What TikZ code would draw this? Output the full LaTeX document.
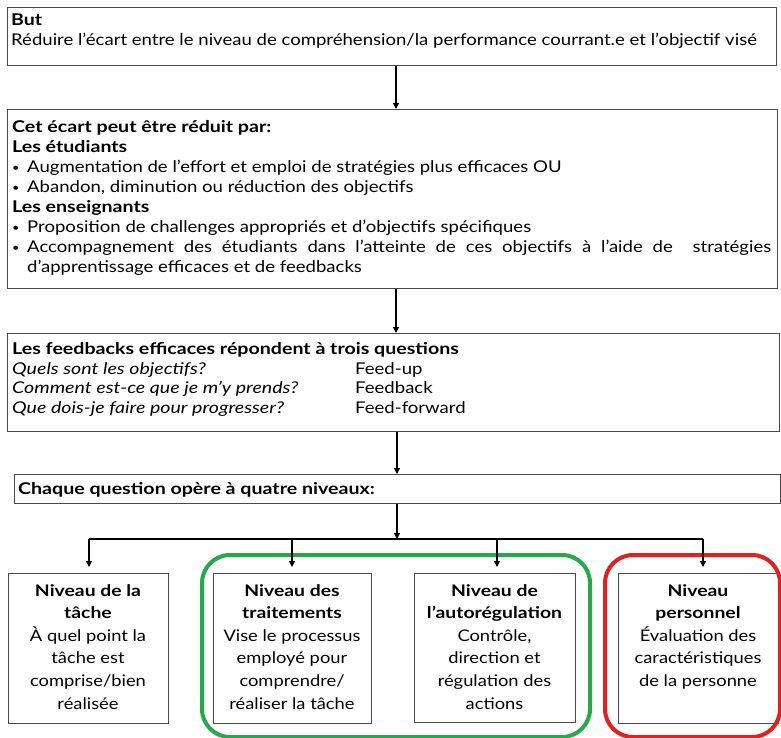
\documentclass[tikz,border=0pt]{standalone}
\usepackage{fontspec}
\setmainfont{Lato}[FakeStretch=1.145, BoldFeatures={FakeStretch=1.21}, ItalicFeatures={FakeStretch=1.21}]
\usetikzlibrary{arrows.meta}
\definecolor{boxline}{HTML}{4A4A4A}
\definecolor{grpgreen}{HTML}{27A84A}
\definecolor{grpred}{HTML}{E2211F}
\newcommand{\smallbullet}{\makebox[15pt][l]{\raisebox{0.5pt}{\fontsize{11}{11}\selectfont •}}}
\begin{document}
\begin{tikzpicture}[x=1pt,y=-1pt,
  frame/.style={draw=boxline, line width=1pt, inner sep=0pt, anchor=north west},
  group/.style={line width=4pt, rounded corners=28pt, inner sep=0pt, anchor=north west},
  arr/.style={draw=black, line width=1.2pt, -{Triangle[length=6pt,width=6pt]}},
  link/.style={draw=black, line width=1.2pt},
  body/.style={inner sep=0pt, font=\fontsize{16.2}{20}\selectfont},
  levelbody/.style={inner sep=0pt, align=center, anchor=north, font=\fontsize{16}{22.6}\selectfont},
]
\useasboundingbox (0,0) rectangle (781,738);

% ---- main boxes
\node[frame, minimum width=769pt, minimum height=58pt]  (b1) at (7,7) {};
\node[frame, minimum width=770pt, minimum height=179pt] (b2) at (7,109) {};
\node[frame, minimum width=772pt, minimum height=98pt]  (b3) at (7,333) {};
\node[frame, minimum width=766pt, minimum height=29pt]  (b4) at (14,474) {};

% ---- level boxes
\node[frame, minimum width=160pt, minimum height=150pt] (nA) at (8,573) {};
\node[frame, minimum width=158pt, minimum height=150pt] (nB) at (213,573) {};
\node[frame, minimum width=161pt, minimum height=149pt] (nC) at (414,573) {};
\node[frame, minimum width=160pt, minimum height=150pt] (nD) at (618,573) {};

% ---- coloured groupings
\node[group, draw=grpgreen, minimum width=388pt, minimum height=182pt] (gGreen) at (200,553) {};
\node[group, draw=grpred, minimum width=175pt, minimum height=182pt] (gRed) at (603,553) {};

% ---- texts of box 1
\node[body, anchor=base west] (t1a) at (11,26) {\textbf{But}};
\node[body, anchor=base west] (t1b) at (11,46) {Réduire l’écart entre le niveau de compréhension/la performance courrant.e et l’objectif visé};

% ---- texts of box 2
\node[body, anchor=north west, align=left] (t2) at (12,118) {%
\strut\textbf{Cet écart peut être réduit par:}\\
\textbf{Les étudiants}\\
\smallbullet Augmentation de l’effort et emploi de stratégies plus efficaces OU\\
\smallbullet Abandon, diminution ou réduction des objectifs\\
\textbf{Les enseignants}\\
\smallbullet Proposition de challenges appropriés et d’objectifs spécifiques\\
\smallbullet\makebox[744pt][s]{Accompagnement des étudiants dans l’atteinte de ces objectifs à l’aide de\ \ stratégies}\\
\hspace*{15pt}d’apprentissage efficaces et de feedbacks};

% ---- texts of box 3
\node[body, anchor=north west, align=left, font=\fontsize{16.2}{19.5}\selectfont] (t3) at (12,341) {%
\strut\textbf{Les feedbacks efficaces répondent à trois questions}\\
\makebox[343pt][l]{\itshape Quels sont les objectifs?}Feed-up\\
\makebox[343pt][l]{\itshape Comment est-ce que je m’y prends?}Feedback\\
\makebox[343pt][l]{\itshape Que dois-je faire pour progresser?}Feed-forward};

% ---- text of box 4
\node[inner sep=0pt, anchor=base west, font=\fontsize{16.2}{20}\selectfont\bfseries] (t4) at (18,494) {Chaque question opère à quatre niveaux:};

% ---- texts of level boxes
\node[levelbody] (tA) at (88,580) {\strut\textbf{Niveau de la}\\\textbf{tâche}\\À quel point la\\tâche est\\comprise/bien\\réalisée};
\node[levelbody] (tB) at (292,580) {\strut\textbf{Niveau des}\\\textbf{traitements}\\Vise le processus\\employé pour\\comprendre/\\réaliser la tâche};
\node[levelbody] (tC) at (494.5,580) {\strut\textbf{Niveau de}\\\textbf{l’autorégulation}\\Contrôle,\\direction et\\régulation des\\actions};
\node[levelbody] (tD) at (698,580) {\strut\textbf{Niveau}\\\textbf{personnel}\\Évaluation des\\caractéristiques\\de la personne};

% ---- connectors
\coordinate (colA) at (396,0);
\coordinate (colB) at (397,0);
\draw[arr] (b1.south -| colA) -- (b2.north -| colA);
\draw[arr] (b2.south -| colA) -- (b3.north -| colA);
\draw[arr] (b3.south -| colB) -- (b4.north -| colB);

\coordinate (hub) at (397,539);
\coordinate (hA) at (89,539);
\coordinate (hB) at (292,539);
\coordinate (hC) at (497,539);
\coordinate (hD) at (703,539);
\draw[arr] (b4.south -| hub) -- (hub);
\draw[link] (hA) -- (hD);
\draw[arr, shorten >=6pt] (hA) -- (hA |- nA.north);
\draw[arr, shorten >=6pt] (hB) -- (hB |- nB.north);
\draw[arr, shorten >=6pt] (hC) -- (hC |- nC.north);
\draw[arr, shorten >=6pt] (hD) -- (hD |- nD.north);
\end{tikzpicture}
\end{document}
